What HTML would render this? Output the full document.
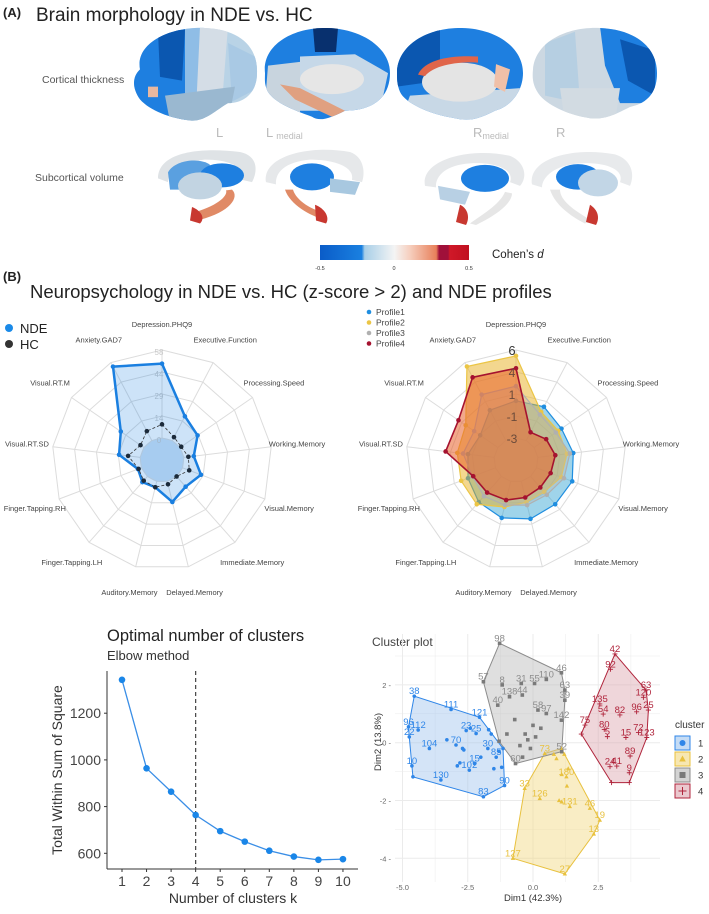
<!DOCTYPE html>
<html><head><meta charset="utf-8">
<style>
html,body{margin:0;padding:0;background:#fff;}
body{width:709px;height:914px;overflow:hidden;position:relative;font-family:"Liberation Sans",sans-serif;}
svg{position:absolute;left:0;top:0;}
</style></head>
<body>
<svg id="fig" width="709" height="914" viewBox="0 0 709 914" xmlns="http://www.w3.org/2000/svg">
<defs>
<linearGradient id="cbar" x1="0" x2="1" y1="0" y2="0">
<stop offset="0" stop-color="#0a5cc8"/><stop offset="0.28" stop-color="#1a80e0"/>
<stop offset="0.3" stop-color="#a8cfe8"/><stop offset="0.5" stop-color="#f4f4f4"/>
<stop offset="0.6" stop-color="#f6d0c0"/><stop offset="0.78" stop-color="#e8805a"/>
<stop offset="0.8" stop-color="#a0103a"/><stop offset="0.86" stop-color="#a0103a"/>
<stop offset="0.87" stop-color="#d01828"/><stop offset="1" stop-color="#c01020"/>
</linearGradient>
<clipPath id="b1"><path d="M140,95 C135,60 170,38 205,40 C240,42 258,65 257,100 C257,125 245,140 228,140 C215,150 205,165 190,163 C170,160 150,150 140,135 C132,120 132,105 140,95Z"/></clipPath>
<clipPath id="b2"><path d="M265,100 C262,65 290,40 325,40 C360,40 390,65 390,100 C390,130 375,150 345,150 C330,160 320,165 312,158 C295,150 275,140 268,125 C264,115 265,108 265,100Z"/></clipPath>
<clipPath id="b3"><path d="M397,100 C397,65 425,40 460,40 C495,40 523,65 523,100 C523,125 510,145 495,150 C480,160 470,165 455,160 C430,155 405,140 400,125 C397,115 397,108 397,100Z"/></clipPath>
<clipPath id="b4"><path d="M533,95 C535,60 565,38 600,40 C635,42 657,65 657,100 C657,125 648,140 630,145 C615,155 605,162 590,160 C570,156 550,145 540,130 C533,118 532,108 533,95Z"/></clipPath>
</defs>

<!-- Panel A -->
<text x="3" y="17" font-size="13" font-weight="bold" fill="#222">(A)</text>
<text x="36" y="21" font-size="19" fill="#222">Brain morphology in NDE vs. HC</text>
<text x="42" y="83" font-size="10.5" fill="#555">Cortical thickness</text>
<text x="35" y="181" font-size="10.5" fill="#555">Subcortical volume</text>

<g transform="translate(0,-2.1) scale(1,0.752)">
<g clip-path="url(#b1)">
<rect x="130" y="38" width="130" height="130" fill="#b9d3e6"/>
<rect x="130" y="38" width="55" height="130" fill="#1e7fe0"/>
<path d="M158,45 L185,42 L182,110 L160,105Z" fill="#0b57b0"/>
<rect x="185" y="38" width="20" height="130" fill="#8fbde6"/>
<path d="M200,38 L228,38 L222,140 L196,150Z" fill="#d4dde6"/>
<path d="M228,60 L258,80 L258,120 L232,138Z" fill="#a9c9e4"/>
<path d="M165,130 L235,118 L228,165 L170,165Z" fill="#9ab8d0"/>
<rect x="148" y="118" width="10" height="14" fill="#e8b8a0"/>
</g>
<g clip-path="url(#b2)">
<rect x="262" y="38" width="130" height="130" fill="#1e7fe0"/>
<path d="M313,40 L338,40 L336,72 L315,72Z" fill="#08306e"/>
<path d="M268,90 L300,85 L300,160 L265,140Z" fill="#c8d4de"/>
<path d="M300,78 L355,75 L388,100 L380,150 L300,150Z" fill="#c6d8e8"/>
<ellipse cx="332" cy="108" rx="32" ry="20" fill="#e6e6e6"/>
<path d="M280,115 L300,120 L345,150 L335,160 L295,135Z" fill="#e0a080"/>
</g>
<g clip-path="url(#b3)">
<rect x="395" y="38" width="130" height="130" fill="#1e7fe0"/>
<path d="M397,60 L440,42 L440,110 L397,118Z" fill="#0b57b0"/>
<path d="M410,130 L520,120 L520,165 L400,165Z" fill="#c8d8e6"/>
<ellipse cx="460" cy="112" rx="38" ry="26" fill="#e4e4e4"/>
<path d="M418,102 C425,82 450,76 478,78 L478,86 C452,84 432,92 425,104Z" fill="#e0654a"/>
<path d="M496,88 L510,95 L505,125 L494,118Z" fill="#f0c0a8"/>
</g>
<g clip-path="url(#b4)">
<rect x="530" y="38" width="130" height="130" fill="#ccd8e2"/>
<path d="M600,38 L660,38 L660,140 L620,140 L605,90Z" fill="#1e7fe0"/>
<path d="M620,55 L655,70 L655,130 L628,110Z" fill="#0b57b0"/>
<path d="M545,60 L575,45 L580,140 L545,130Z" fill="#b6cfe2"/>
<path d="M560,120 L620,120 L615,165 L565,165Z" fill="#d2dbe2"/>
</g>

<g>
<path d="M158,240 C158,205 200,198 240,205 C258,210 258,230 252,245 L242,242 C245,225 230,215 205,215 C180,218 168,230 168,245Z" fill="#dfe3e6"/>
<path d="M168,232 C175,215 200,212 210,222 L195,255 L170,255Z" fill="#5aa0e0"/>
<ellipse cx="222" cy="236" rx="22" ry="16" fill="#1e7fe0"/>
<ellipse cx="200" cy="250" rx="22" ry="18" fill="#c2d4e2"/>
<path d="M232,255 C240,265 230,285 200,295 L195,285 C220,275 228,262 226,256Z" fill="#e08a66"/>
<path d="M192,278 C200,282 206,292 200,300 L190,296Z" fill="#c83830"/>
</g>
<g>
<path d="M266,245 C262,210 310,195 350,205 C365,212 365,235 362,245 L352,242 C355,225 335,215 310,215 C285,218 275,232 276,248Z" fill="#e6e8ea"/>
<ellipse cx="312" cy="238" rx="22" ry="18" fill="#1e7fe0"/>
<path d="M330,240 L360,245 L355,262 L330,258Z" fill="#a8c8e0"/>
<path d="M285,255 C290,275 310,290 325,295 L322,285 C305,278 295,265 293,255Z" fill="#e08a66"/>
<path d="M315,275 C325,280 330,292 326,300 L316,296Z" fill="#c83830"/>
</g>
<g>
<path d="M425,250 C420,215 470,198 510,210 C525,218 528,238 520,250 L510,245 C515,228 495,218 470,220 C445,222 435,238 436,252Z" fill="#e6e8ea"/>
<ellipse cx="485" cy="240" rx="24" ry="18" fill="#1e7fe0"/>
<path d="M438,250 L470,258 L465,275 L440,268Z" fill="#b8d0e4"/>
<path d="M505,258 C500,275 480,290 470,300 L476,302 C492,292 512,275 512,260Z" fill="#e6e6e6"/>
<path d="M460,275 C468,280 470,292 466,302 L456,298Z" fill="#c83830"/>
</g>
<g>
<path d="M532,248 C528,212 575,198 615,208 C632,215 635,235 630,250 L620,245 C625,228 605,218 580,220 C555,222 542,238 542,252Z" fill="#e8eaec"/>
<ellipse cx="578" cy="238" rx="22" ry="17" fill="#1e7fe0"/>
<ellipse cx="598" cy="246" rx="20" ry="18" fill="#c2d6e6"/>
<path d="M550,255 C555,275 570,290 585,300 L590,295 C575,283 560,270 560,255Z" fill="#e6e6e6"/>
<path d="M590,275 C598,282 600,292 596,302 L586,298Z" fill="#c83830"/>
</g>
</g>

<text x="216" y="137" font-size="13" fill="#bbb">L</text>
<text x="266" y="137" font-size="13" fill="#bbb">L<tspan font-size="9" dx="3" dy="2">medial</tspan></text>
<text x="473" y="137" font-size="13" fill="#bbb">R<tspan font-size="9" dy="2">medial</tspan></text>
<text x="556" y="137" font-size="13" fill="#bbb">R</text>

<g>
<rect x="320" y="245" width="149" height="15" fill="url(#cbar)"/>
<text x="320" y="270" font-size="5.5" fill="#333" text-anchor="middle">-0.5</text>
<text x="394" y="270" font-size="5.5" fill="#333" text-anchor="middle">0</text>
<text x="469" y="270" font-size="5.5" fill="#333" text-anchor="middle">0.5</text>
<text x="492" y="258" font-size="11.5" fill="#222">Cohen’s <tspan font-style="italic">d</tspan></text>
</g>

<!-- Panel B -->
<text x="3" y="281" font-size="13" font-weight="bold" fill="#222">(B)</text>
<text x="30" y="298" font-size="18.5" fill="#222">Neuropsychology in NDE vs. HC (z-score &gt; 2) and NDE profiles</text>

<g id="radar1"></g>
<g id="radar2"></g>
<g id="elbow"></g>
<g id="cluster"></g>
</svg>

<script>
// ---------- radar data ----------
const radarAxes = ["Depression.PHQ9","Executive.Function","Processing.Speed","Working.Memory","Visual.Memory","Immediate.Memory","Delayed.Memory","Auditory.Memory","Finger.Tapping.LH","Finger.Tapping.RH","Visual.RT.SD","Visual.RT.M","Anxiety.GAD7"];
const ndeValues = [49,18,14,6.6,13,9,14,4,5,2.4,14,18.5,55];
const hcValues  = [9,2.5,0.9,3,4.7,0,2,4,3.7,2,8,2.7,7];
const radar1Ticks = [0,14,29,44,58];
const profile1 = [0.8,0.9,0.4,0.65,0.9,0.8,0.95,0.85,0.5,0,-0.3,-0.8,0.5];
const profile2 = [5.4,0.3,0,0,-0.3,-0.9,-0.8,-0.3,0.8,0.75,0.8,1.0,5.55];
const profile3 = [2.3,0,-0.3,0.3,0,-0.5,-0.5,-0.5,-0.3,-0.5,0.2,-0.05,2.3];
const profile4 = [4.13,-2.05,-1.5,-1.2,-1.46,-1.5,-1.3,-1.03,-0.8,-0.57,2.0,1.9,4.3];
const radar2Ticks = [-3,-1,1,4,6];
const profileNames = ["Profile1","Profile2","Profile3","Profile4"];

// ---------- elbow data ----------
const elbowK = [1,2,3,4,5,6,7,8,9,10];
const elbowWSS = [1343,964,864,764,695,650,611,586,572,575];
const elbowYTicks = [600,800,1000,1200];
const optimalK = 4;

// ---------- cluster data [dim1, dim2, label] ----------
const cluster1 = [[-4.55,1.61,"38"],[-3.14,1.15,"111"],[-2.05,0.88,"121"],[-4.4,0.44,"112"],[-2.56,0.42,"23"],[-2.95,-0.08,"70"],[-3.97,-0.2,"104"],[-4.74,0.2,"22"],[-4.77,0.55,"96"],[-4.64,-0.8,"10"],[-3.53,-1.29,"130"],[-2.44,-0.95,"102"],[-2.24,-0.72,"15"],[-1.9,-1.87,"83"],[-1.09,-1.48,"90"],[-1.41,-0.5,"85"],[-1.73,-0.2,"30"],[-2.18,0.32,"25"],[-4.6,-1.18,""],[-2.7,-0.2,""],[-2.65,-0.25,""],[-3.3,0.1,""],[-2.4,0.5,""],[-1.6,0.3,""],[-1.3,-0.3,""],[-1.15,-0.2,""],[-2.0,-0.5,""],[-1.5,-0.9,""],[-2.9,-0.8,""],[-2.8,-0.7,""],[-1.7,0.45,""],[-1.2,-0.85,""]];
const cluster2 = [[-0.32,-1.58,"33"],[0.26,-1.93,"126"],[1.41,-2.21,"131"],[2.18,-2.27,"46"],[2.56,-2.68,"19"],[2.33,-3.16,"13"],[-0.77,-4.0,"127"],[1.22,-4.54,"27"],[0.45,-0.37,"73"],[1.09,-0.2,""],[1.28,-1.18,"180"],[1.0,-2.0,""],[1.1,-2.05,""],[0.9,-0.55,""],[1.2,-0.4,""],[1.35,-0.9,""],[1.1,-1.1,""],[0.8,-0.4,""],[1.3,-1.5,""]];
const cluster3 = [[-1.28,3.44,"98"],[1.09,2.42,"46"],[-1.9,2.11,"57"],[-1.18,2.0,"8"],[-0.45,2.05,"31"],[0.06,2.05,"55"],[0.51,2.19,"110"],[-0.9,1.59,"138"],[-0.41,1.65,"44"],[-1.35,1.3,"40"],[0.19,1.13,"58"],[0.51,1.01,"97"],[1.09,0.78,"142"],[-0.67,-0.72,"60"],[1.1,-0.31,"52"],[1.22,1.82,"63"],[1.22,1.47,"39"],[0.0,0.6,""],[-0.3,0.3,""],[-0.2,0.1,""],[0.1,0.2,""],[-0.5,-0.1,""],[-0.1,-0.2,""],[0.3,0.5,""],[-0.7,0.8,""],[-1.0,0.3,""],[-1.3,0.05,""],[-0.4,-0.5,""]];
const cluster4 = [[3.14,3.07,"42"],[2.97,2.54,"92"],[4.33,1.82,"63"],[4.23,1.57,"120"],[2.56,1.34,"135"],[2.69,0.99,"54"],[3.33,0.96,"82"],[3.97,1.07,"96"],[4.42,1.13,"25"],[1.99,0.61,"75"],[2.73,0.46,"80"],[4.04,0.35,"72"],[2.85,0.21,"5"],[3.56,0.18,"15"],[4.36,0.18,"123"],[3.72,-0.46,"89"],[2.95,-0.83,"24"],[3.21,-0.81,"41"],[3.69,-1.04,"9"],[3.01,-1.38,""],[3.69,-1.38,""],[1.85,0.3,""]];
const dim1Ticks = [-5.0,-2.5,0.0,2.5];
const dim2Ticks = [-4,-2,0,2];

const NS = "http://www.w3.org/2000/svg";
function mk(parent, tag, attrs, text){
  const e = document.createElementNS(NS, tag);
  for (const k in attrs) e.setAttribute(k, attrs[k]);
  if (text !== undefined) e.textContent = text;
  parent.appendChild(e);
  return e;
}
const N = radarAxes.length;
function ang(i){ return i*2*Math.PI/N; }
function pt(cx,cy,r,i){ return [cx + r*Math.sin(ang(i)), cy - r*Math.cos(ang(i))]; }

function radarFrame(g, cx, cy, ticks, tickSize, tickColor){
  for (let k=0;k<5;k++){
    const r = 22 + k*22;
    const pts = radarAxes.map((_,i)=>pt(cx,cy,r,i).join(",")).join(" ");
    const ring = mk(g,"polygon",{points:pts,fill:"none",stroke:"#dcdcdc","stroke-width":1});
    
    
  }
  radarAxes.forEach((a,i)=>{
    const p = pt(cx,cy,110,i), q = pt(cx,cy,22,i);
    const sp = mk(g,"line",{x1:q[0],y1:q[1],x2:p[0],y2:p[1],stroke:"#dcdcdc","stroke-width":1});
    
    
    const l = pt(cx,cy,136,i);
    const t = mk(g,"text",{x:l[0],y:l[1]+3,"font-size":7.5,fill:"#444","text-anchor":"middle"},a);
    
    
  });
  ticks.forEach((v,k)=>{
    const t = mk(g,"text",{x:cx-3,y:cy-(22+k*22)+5,"font-size":tickSize,fill:tickColor,"text-anchor":"middle"},String(v));
    
    
  });
}
function radarSeries(g,cx,cy,vals,rFn,stroke,fill,fop,sw,dash,dot,name){
  const pts = vals.map((v,i)=>pt(cx,cy,rFn(v),i));
  const poly = mk(g,"polygon",{points:pts.map(p=>p.join(",")).join(" "),fill:fill,"fill-opacity":fop,stroke:stroke,"stroke-width":sw,"stroke-dasharray":dash||"none","stroke-linejoin":"round"});
  
  
  pts.forEach(p=>{
    const c = mk(g,"circle",{cx:p[0],cy:p[1],r:2.3,fill:dot});
    
    
  });
}

// Radar 1
(function(){
  const g = document.getElementById("radar1");
  const cx=162, cy=460;
  const rFn = v => 22 + (v - radar1Ticks[0])/(radar1Ticks[4]-radar1Ticks[0])*88;
  const inner = mk(g,"circle",{cx:cx,cy:cy,r:22,fill:"#cfe2f5"});
  
  
  radarFrame(g,cx,cy,radar1Ticks,8,"#c8c8c8");
  radarSeries(g,cx,cy,ndeValues,rFn,"#1a7fe0","#1a7fe0",0.22,2.5,null,"#1a7fe0","nde");
  radarSeries(g,cx,cy,hcValues,rFn,"#333","none",0,0.8,"3,2","#1b2a3a","hc");
  const l1 = mk(g,"circle",{cx:9,cy:328,r:4,fill:"#1a8ae8"});
  
  
  const t1 = mk(g,"text",{x:20,y:333,"font-size":13,fill:"#222"},"NDE");
  
  
  const l2 = mk(g,"circle",{cx:9,cy:344,r:4,fill:"#333"});
  
  
  const t2 = mk(g,"text",{x:20,y:349,"font-size":13,fill:"#222"},"HC");
  
  
})();

// Radar 2
(function(){
  const g = document.getElementById("radar2");
  const cx=516, cy=460;
  const rFn = v => 22 + (v - radar2Ticks[0])/(radar2Ticks[4]-radar2Ticks[0])*88;
  radarFrame(g,cx,cy,[],8,"#555");
  const series = [profile1,profile2,profile3,profile4];
  const strokes = ["#1f8ee0","#ebc545","#b0b0b0","#a5122f"];
  const fills = ["#2a9fd0","#e8b020","#b8b8b8","#e8602a"];
  const fops = [0.45,0.5,0.35,0.55];
  series.forEach((s,i)=>radarSeries(g,cx,cy,s,rFn,strokes[i],fills[i],fops[i],i===3?1.6:1.2,null,strokes[i],"profile"+(i+1)));
  radar2Ticks.forEach((v,k)=>{
    const t = mk(g,"text",{x:cx-4,y:cy-(22+k*22)+5,"font-size":k===4?13:12,fill:k===4?"#333":"#6a4a3a","text-anchor":"middle"},String(v));
    
    
  });
  profileNames.forEach((n,i)=>{
    const c = mk(g,"circle",{cx:369,cy:312+i*10.5,r:2.3,fill:strokes[i]});
    
    
    const t = mk(g,"text",{x:376,y:315+i*10.5,"font-size":8.5,fill:"#444"},n);
    
    
  });
})();

// Elbow chart
(function(){
  const g = document.getElementById("elbow");
  const X = k => 122 + (k-1)*24.55;
  const Y = v => 853.3 - (v-600)*0.2335;
  const t1 = mk(g,"text",{x:107,y:641,"font-size":16.5,fill:"#222"},"Optimal number of clusters");
  
  
  const t2 = mk(g,"text",{x:107,y:660,"font-size":13,fill:"#333"},"Elbow method");
  
  
  const ya = mk(g,"line",{x1:107,y1:671,x2:107,y2:869,stroke:"#333","stroke-width":1});
  
  
  const xa = mk(g,"line",{x1:107,y1:869,x2:358,y2:869,stroke:"#333","stroke-width":1});
  
  
  elbowYTicks.forEach(v=>{
    const tk = mk(g,"line",{x1:104,y1:Y(v),x2:107,y2:Y(v),stroke:"#333"});
    
    
    const t = mk(g,"text",{x:101,y:Y(v)+5,"font-size":14,fill:"#444","text-anchor":"end"},String(v));
    
    
  });
  elbowK.forEach(k=>{
    const tk = mk(g,"line",{x1:X(k),y1:869,x2:X(k),y2:872,stroke:"#333"});
    
    
    const t = mk(g,"text",{x:X(k),y:886,"font-size":14,fill:"#444","text-anchor":"middle"},String(k));
    
    
  });
  const vl = mk(g,"line",{x1:X(optimalK),y1:671,x2:X(optimalK),y2:869,stroke:"#444","stroke-width":1.2,"stroke-dasharray":"4,3"});
  
  
  const line = mk(g,"polyline",{points:elbowK.map((k,i)=>X(k)+","+Y(elbowWSS[i])).join(" "),fill:"none",stroke:"#3a8ee6","stroke-width":1.3});
  
  
  elbowK.forEach((k,i)=>{
    const c = mk(g,"circle",{cx:X(k),cy:Y(elbowWSS[i]),r:3.3,fill:"#1a86e8"});
    
    
  });
  const yt = mk(g,"text",{x:0,y:0,"font-size":14,fill:"#333","text-anchor":"middle",transform:"translate(62,770) rotate(-90)"},"Total Within Sum of Square");
  
  
  const xt = mk(g,"text",{x:233,y:903,"font-size":14,fill:"#333","text-anchor":"middle"},"Number of clusters k");
  
  
})();

// Cluster plot
(function(){
  const g = document.getElementById("cluster");
  const X = d => 533 + d*26.1;
  const Y = d => 742.7 - d*28.9;
  const x0=395, x1=660, y0=634, y1=882;
  const t = mk(g,"text",{x:372,y:646,"font-size":12,fill:"#444"},"Cluster plot");
  
  
  for (let d=-5; d<=4.9; d+=1.25){
    const major = Math.abs(d/2.5 - Math.round(d/2.5))<1e-6;
    const gl = mk(g,"line",{x1:X(d),y1:y0,x2:X(d),y2:y1,stroke:"#ebebeb","stroke-width":major?1:0.5});
    
    
  }
  for (let d=-4; d<=3; d+=1){
    const gl = mk(g,"line",{x1:x0,y1:Y(d),x2:x1,y2:Y(d),stroke:"#ebebeb","stroke-width":d%2===0?1:0.5});
    
    
  }
  dim1Ticks.forEach(v=>{
    const tl = mk(g,"text",{x:X(v),y:y1+8,"font-size":7.5,fill:"#666","text-anchor":"middle"},v.toFixed(1));
    
    
  });
  dim2Ticks.forEach(v=>{
    const tl = mk(g,"text",{x:x0-4,y:Y(v)+3,"font-size":7.5,fill:"#666","text-anchor":"end"},String(v)+" -");
    
    
  });
  const xt = mk(g,"text",{x:533,y:901,"font-size":9.5,fill:"#333","text-anchor":"middle"},"Dim1 (42.3%)");
  
  
  const yt = mk(g,"text",{x:0,y:0,"font-size":9.5,fill:"#333","text-anchor":"middle",transform:"translate(381,742) rotate(-90)"},"Dim2 (13.8%)");
  
  

  function hull(ps){
    const p = ps.map(a=>[a[0],a[1]]).sort((a,b)=>a[0]-b[0]||a[1]-b[1]);
    const cr=(o,a,b)=>(a[0]-o[0])*(b[1]-o[1])-(a[1]-o[1])*(b[0]-o[0]);
    const lo=[],up=[];
    for(const q of p){while(lo.length>=2&&cr(lo[lo.length-2],lo[lo.length-1],q)<=0)lo.pop();lo.push(q);}
    for(let i=p.length-1;i>=0;i--){const q=p[i];while(up.length>=2&&cr(up[up.length-2],up[up.length-1],q)<=0)up.pop();up.push(q);}
    up.pop();lo.pop();return lo.concat(up);
  }
  const clusters=[cluster1,cluster2,cluster3,cluster4];
  const cols=["#2f86e8","#e8c13e","#8c8c8c","#b0253c"];
  const fills=["#9fc4ee","#f1d77e","#b8b8b8","#dca3ad"];
  clusters.forEach((cl,ci)=>{
    const h = hull(cl);
    const poly = mk(g,"polygon",{points:h.map(p=>X(p[0])+","+Y(p[1])).join(" "),fill:fills[ci],"fill-opacity":0.45,stroke:cols[ci],"stroke-width":1});
    
    
  });
  clusters.forEach((cl,ci)=>{
    cl.forEach(p=>{
      const px=X(p[0]), py=Y(p[1]);
      let m;
      if(ci===0) m = mk(g,"circle",{cx:px,cy:py,r:1.8,fill:cols[0]});
      else if(ci===1) m = mk(g,"polygon",{points:`${px},${py-2.4} ${px-2.2},${py+1.6} ${px+2.2},${py+1.6}`,fill:cols[1]});
      else if(ci===2) m = mk(g,"rect",{x:px-1.8,y:py-1.8,width:3.6,height:3.6,fill:"#7a7a7a"});
      else m = mk(g,"path",{d:`M${px-2.5},${py}H${px+2.5}M${px},${py-2.5}V${py+2.5}`,stroke:cols[3],"stroke-width":0.9});
      
      
      if(p[2]){
        const lt = mk(g,"text",{x:px,y:py-2,"font-size":9.5,fill:cols[ci],"text-anchor":"middle"},p[2]);
        
        
      }
    });
  });
  const lt = mk(g,"text",{x:675,y:728,"font-size":10,fill:"#333"},"cluster");
  
  
  ["1","2","3","4"].forEach((n,i)=>{
    const y = 736+i*16;
    const box = mk(g,"rect",{x:675,y:y,width:15,height:14,fill:fills[i],"fill-opacity":0.6,stroke:cols[i],"stroke-width":1});
    
    
    const cx=682.5, cy=y+7;
    let m;
    if(i===0) m = mk(g,"circle",{cx:cx,cy:cy,r:3,fill:cols[0]});
    else if(i===1) m = mk(g,"polygon",{points:`${cx},${cy-3.5} ${cx-3.3},${cy+2.5} ${cx+3.3},${cy+2.5}`,fill:cols[1]});
    else if(i===2) m = mk(g,"rect",{x:cx-3,y:cy-3,width:6,height:6,fill:"#7a7a7a"});
    else m = mk(g,"path",{d:`M${cx-4},${cy}H${cx+4}M${cx},${cy-4}V${cy+4}`,stroke:cols[3],"stroke-width":1});
    
    
    const t = mk(g,"text",{x:698,y:y+10.5,"font-size":9.5,fill:"#333"},n);
    
    
  });
})();
</script>
</body></html>
